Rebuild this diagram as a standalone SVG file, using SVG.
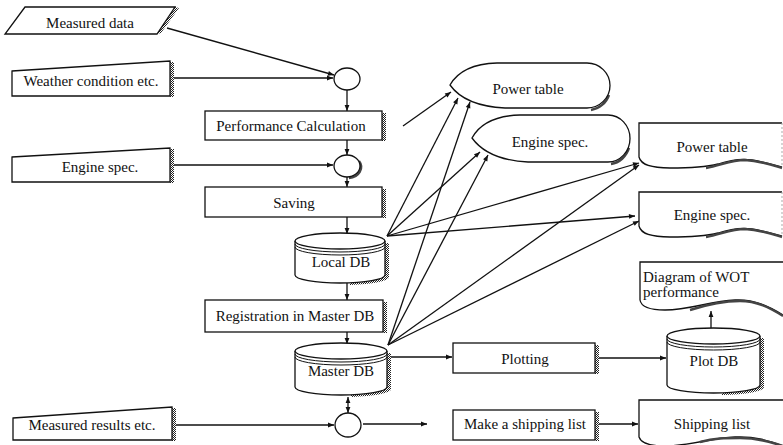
<svg xmlns="http://www.w3.org/2000/svg" width="783" height="445" viewBox="0 0 783 445" font-family="'Liberation Serif', 'DejaVu Serif', serif">
  <style>
    .ln { fill: #fff; stroke: #111; stroke-width: 1.3; }
    .edge { fill: none; stroke: #111; stroke-width: 1.3; }
    .thin { fill: none; stroke: #111; stroke-width: 1; }
    .shd { fill: url(#dots); stroke: none; }
    .shdl { fill: none; stroke: #444; stroke-width: 2.4; }
    text { font-family: 'Liberation Serif', 'DejaVu Serif', serif; font-size: 15px; fill: #111; text-anchor: middle; }
    text.tl { text-anchor: start; }
  </style>
  <defs>
    <pattern id="dots" width="2" height="2" patternUnits="userSpaceOnUse">
      <rect width="2" height="2" fill="#fff"/>
      <rect width="1" height="1" fill="#222"/>
      <rect x="1" y="1" width="1" height="1" fill="#222"/>
    </pattern>
    <marker id="arr" viewBox="0 0 10 10" refX="10" refY="5" markerWidth="8" markerHeight="6" markerUnits="userSpaceOnUse" orient="auto-start-reverse">
      <path d="M0,1 L10,5 L0,9 z" fill="#111"/>
    </marker>
  </defs>

  <rect width="783" height="445" fill="#fff"/>

  <!-- connectors -->
  <g id="connectors">
    <path class="edge" d="M167,28 L334,75" marker-end="url(#arr)"/>
    <path class="edge" d="M172,78 L333,78" marker-end="url(#arr)"/>
    <path class="edge" d="M173,165 L333,165" marker-end="url(#arr)"/>
    <path class="edge" d="M173,425 L334,425" marker-end="url(#arr)"/>
    <path class="edge" d="M347,90 L347,111" marker-end="url(#arr)"/>
    <path class="edge" d="M347,140 L347,155" marker-end="url(#arr)"/>
    <path class="edge" d="M347,177 L347,187" marker-end="url(#arr)"/>
    <path class="edge" d="M347,217 L347,234" marker-end="url(#arr)"/>
    <path class="edge" d="M347,283 L347,300" marker-end="url(#arr)"/>
    <path class="edge" d="M347,332 L347,344" marker-end="url(#arr)"/>
    <path class="edge" d="M348,397 L348,413" marker-start="url(#arr)" marker-end="url(#arr)"/>
    <path class="edge" d="M363,424 L427,424" marker-end="url(#arr)"/>
    <path class="edge" d="M388,357 L452,357" marker-end="url(#arr)"/>
    <path class="edge" d="M599,358 L666,358" marker-end="url(#arr)"/>
    <path class="edge" d="M598,424 L638,424" marker-end="url(#arr)"/>
    <path class="edge" d="M711,338 L711,311" marker-end="url(#arr)"/>
    <!-- fan out from the local database -->
    <path class="edge" d="M403,126 L451,92" marker-end="url(#arr)"/>
    <path class="edge" d="M387,236 L458,98" marker-end="url(#arr)"/>
    <path class="edge" d="M387,236 L480,152" marker-end="url(#arr)"/>
    <path class="edge" d="M387,236 L639,163" marker-end="url(#arr)"/>
    <path class="edge" d="M387,236 L635,216" marker-end="url(#arr)"/>
    <!-- fan out from the master database -->
    <path class="edge" d="M388,345 L470,102" marker-end="url(#arr)"/>
    <path class="edge" d="M388,345 L488,155" marker-end="url(#arr)"/>
    <path class="edge" d="M388,345 L639,165" marker-end="url(#arr)"/>
    <path class="edge" d="M388,345 L639,221" marker-end="url(#arr)"/>
  </g>

  <!-- inputs -->
  <g id="measured-data">
    <polygon class="shd" points="157,34 161,33 179,8 175,7"/>
    <polygon class="ln" points="25,7 175,7 157,34 5,34"/>
    <text x="90" y="28">Measured data</text>
  </g>
  <g id="weather">
    <rect class="shd" x="170" y="62" width="4" height="35"/>
    <polygon class="ln" points="12,71 170,61 170,96 12,96"/>
    <text x="91" y="86">Weather condition etc.</text>
  </g>
  <g id="engine-spec-in">
    <rect class="shd" x="170" y="149" width="4" height="34"/>
    <polygon class="ln" points="12,157 170,148 170,182 12,182"/>
    <text x="100" y="172">Engine spec.</text>
  </g>
  <g id="measured-results">
    <rect class="shd" x="172" y="408" width="4" height="33"/>
    <polygon class="ln" points="13,418 172,407 172,440 13,440"/>
    <text x="92" y="430">Measured results etc.</text>
  </g>

  <!-- junctions -->
  <g id="join-1">
    <ellipse class="ln" cx="347" cy="79" rx="13" ry="11"/>
  </g>
  <g id="join-2">
    <path class="shdl" d="M359,161 A13,11 0 0 1 349,178"/>
    <ellipse class="ln" cx="347" cy="166" rx="13" ry="11"/>
  </g>
  <g id="join-3">
    <ellipse class="ln" cx="348" cy="425" rx="13" ry="12"/>
  </g>

  <!-- processes -->
  <g id="performance-calculation">
    <rect class="shd" x="382" y="113" width="4" height="28"/>
    <rect class="ln" x="205" y="111" width="177" height="29"/>
    <text x="291" y="131">Performance Calculation</text>
  </g>
  <g id="saving">
    <rect class="shd" x="382" y="189" width="4" height="29"/>
    <rect class="ln" x="205" y="187" width="177" height="30"/>
    <text x="294" y="208">Saving</text>
  </g>
  <g id="registration">
    <rect class="shd" x="383" y="302" width="4" height="31"/>
    <rect class="ln" x="205" y="300" width="178" height="32"/>
    <text x="295" y="321">Registration in Master DB</text>
  </g>
  <g id="plotting">
    <rect class="shd" x="595" y="345" width="4" height="29"/>
    <rect class="ln" x="453" y="343" width="142" height="30"/>
    <text x="525" y="364">Plotting</text>
  </g>
  <g id="make-shipping-list">
    <rect class="shd" x="595" y="412" width="4" height="29"/>
    <rect class="ln" x="453" y="410" width="142" height="30"/>
    <text x="525" y="429">Make a shipping list</text>
  </g>

  <!-- databases -->
  <g id="local-db">
    <path class="shd" d="M385,243 H389 V277 A45,8 0 0 1 350,285 V283 A45,8 0 0 0 385,275 Z"/>
    <path class="ln" d="M295,241 V275 A45,8 0 0 0 385,275 V241"/>
    <ellipse class="ln" cx="340" cy="241" rx="45" ry="8"/>
    <path class="thin" d="M295,244 A45,8 0 0 0 385,244 M295,247 A45,8 0 0 0 385,247"/>
    <text x="341" y="267">Local DB</text>
  </g>
  <g id="master-db">
    <path class="shd" d="M387,353 H391 V389 A46,8 0 0 1 351,397 V395 A46,8 0 0 0 387,387 Z"/>
    <path class="ln" d="M295,351 V387 A46,8 0 0 0 387,387 V351"/>
    <ellipse class="ln" cx="341" cy="351" rx="46" ry="8"/>
    <path class="thin" d="M295,354 A46,8 0 0 0 387,354 M295,357 A46,8 0 0 0 387,357"/>
    <text x="341" y="376">Master DB</text>
  </g>
  <g id="plot-db">
    <path class="shd" d="M760,338 H764 V387 A46.5,8 0 0 1 722,395 V393 A46.5,8 0 0 0 760,385 Z"/>
    <path class="ln" d="M667,336 V385 A46.5,8 0 0 0 760,385 V336"/>
    <ellipse class="ln" cx="713.5" cy="336" rx="46.5" ry="8"/>
    <path class="thin" d="M667,339 A46.5,8 0 0 0 760,339 M667,342 A46.5,8 0 0 0 760,342"/>
    <text x="714" y="366">Plot DB</text>
  </g>

  <!-- displays -->
  <g id="power-table-display">
    <path class="shdl" d="M609,95 A23,22.5 0 0 1 591,110"/>
    <path class="ln" d="M450,85 Q462,64 497,63 H587 A23,22.5 0 0 1 587,108 H505 Q465,106 450,85 Z"/>
    <text x="528" y="94">Power table</text>
  </g>
  <g id="engine-spec-display">
    <path class="shdl" d="M629,148 A22,23.5 0 0 1 611,164"/>
    <path class="ln" d="M472,138 Q484,116 520,115 H608 A22,23.5 0 0 1 608,162 H528 Q488,160 472,138 Z"/>
    <text x="550" y="147">Engine spec.</text>
  </g>

  <!-- documents -->
  <g id="power-table-doc">
    <path class="ln" d="M782,123 H639 V157 C641,165 651,168 670,168 C690,168 706,167 718,164 C730,160 740,158 752,160 C765,162 775,165 782,167"/>
    <path class="shdl" d="M706,168 C720,166 730,160 745,160 C760,161 772,165 782,168" stroke-width="1.6"/>
    <line x1="782" y1="123" x2="782" y2="167" stroke="#aaa" stroke-width="1" stroke-dasharray="2 2"/>
    <text x="712" y="152">Power table</text>
  </g>
  <g id="engine-spec-doc">
    <path class="ln" d="M782,192 H639 V226 C641,234 651,237 670,237 C690,237 706,236 718,233 C730,229 740,227 752,229 C765,231 775,234 782,236"/>
    <path class="shdl" d="M706,237 C720,235 730,229 745,229 C760,230 772,234 782,237" stroke-width="1.6"/>
    <line x1="782" y1="192" x2="782" y2="236" stroke="#aaa" stroke-width="1" stroke-dasharray="2 2"/>
    <text x="712" y="220">Engine spec.</text>
  </g>
  <g id="wot-diagram-doc">
    <path class="ln" d="M783,262 H640 V300 C641,306 648,310 665,310 C690,310 710,301 735,300 C755,299 770,307 783,315"/>
    <path class="shdl" d="M690,310 C712,303 725,301 740,301 C757,301 770,308 783,316" stroke-width="1.6"/>
    <text class="tl" x="643" y="282">Diagram of WOT</text>
    <text class="tl" x="643" y="297">performance</text>
  </g>
  <g id="shipping-list-doc">
    <path class="ln" d="M783,400 H639 V437 C641,443 650,446 665,446 C690,446 710,438 735,437 C755,436 770,441 783,446"/>
    <path class="shdl" d="M700,442 C715,438 725,438 740,438 C757,438 770,442 783,446" stroke-width="1.6"/>
    <text x="712" y="429">Shipping list</text>
  </g>
</svg>
